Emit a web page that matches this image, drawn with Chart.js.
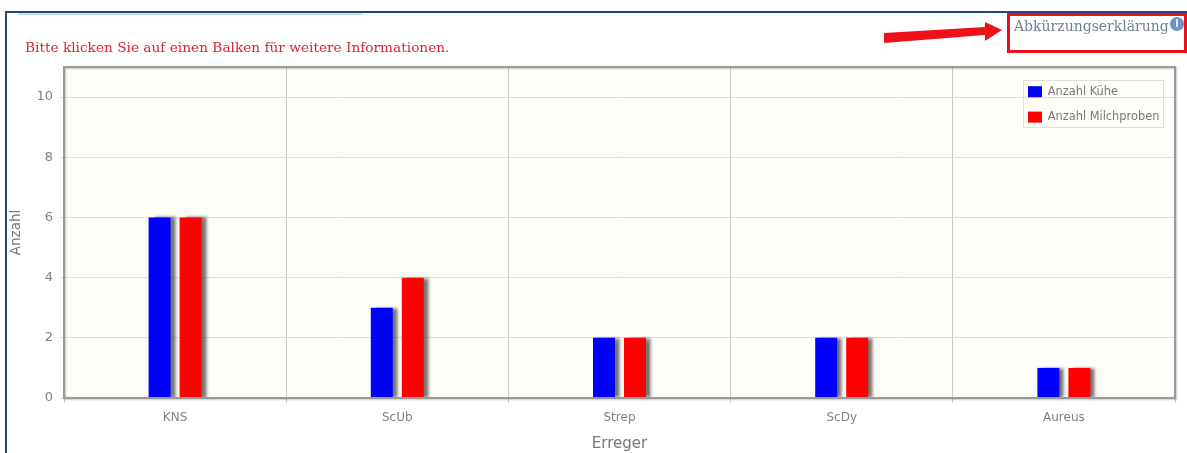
<!DOCTYPE html>
<html lang="de">
<head>
<meta charset="utf-8">
<title>Erreger</title>
<script src="https://cdn.jsdelivr.net/npm/chart.js@4/dist/chart.umd.min.js"></script>
<style>
    html, body { margin: 0; padding: 0; background: #fff; overflow: hidden; }
    #wrap { position: relative; width: 1187px; height: 453px; }
    #chart { position: absolute; left: 0; top: 0; }
    #frame { position: absolute; left: 5px; top: 11px; width: 1182px; height: 442px; border-top: 2px solid #1c4a78; border-left: 2px solid #1c4a78; box-sizing: border-box; }
    #tab { position: absolute; left: 18px; top: 13px; width: 345px; height: 2px; background: #cfdde2; }
    #hint { position: absolute; left: 25px; top: 39px; font: 13.7px "DejaVu Serif", serif; color: #d8262f; white-space: nowrap; }
    #redbox { position: absolute; left: 1007px; top: 13px; width: 180px; height: 40px; border: 3px solid #e8101c; box-sizing: border-box; }
    #abk { position: absolute; left: 1014px; top: 18px; font: 14px "DejaVu Serif", serif; color: #75818c; white-space: nowrap; }
    #info { position: absolute; left: 1170px; top: 17px; width: 14px; height: 14px; border-radius: 50%; background: #6f93c4; color: #fff; font: bold 10px/14px "DejaVu Sans", sans-serif; text-align: center; }
    #arrow { position: absolute; left: 880px; top: 18px; }
</style>
</head>
<body>
<div id="wrap">
    <canvas id="chart" width="1187" height="453"></canvas>
    <div id="frame"></div>
    <div id="tab"></div>
    <div id="hint">Bitte klicken Sie auf einen Balken für weitere Informationen.</div>
    <svg id="arrow" width="125" height="32"><polygon points="4,15 105,9 105,4 122,12 105,23 105,17 4,25" fill="#f01018"/></svg>
    <div id="redbox"></div>
    <div id="abk">Abkürzungserklärung</div>
    <div id="info">i</div>
</div>
<script>
var Erreger = ["KNS", "ScUb", "Strep", "ScDy", "Aureus"];
var AnzahlKuehe = [6, 3, 2, 2, 1];
var AnzahlMilchproben = [6, 4, 2, 2, 1];
var yTicks = [0, 2, 4, 6, 8, 10];

// plot background, frame, bar shadows and the box round the legend
const plotDeko = {
    id: 'plotDeko',
    beforeDraw(chart) {
        const a = chart.chartArea, ctx = chart.ctx;
        ctx.save();
        ctx.fillStyle = '#fffdf7';
        ctx.fillRect(a.left, a.top, a.right - a.left, a.bottom - a.top);
        ctx.restore();
    },
    afterLayout(chart) {
        // legend sits top right inside the plot, bottom is left roomy so it keeps one column
        Object.assign(chart.legend, { left: 1014, top: 72, right: 1170, bottom: 200, width: 156, height: 128 });
    },
    beforeDatasetsDraw(chart) {
        const ctx = chart.ctx;
        ctx.save();
        ctx.shadowColor = 'rgba(60,60,60,0.7)';
        ctx.shadowOffsetX = 5;
        ctx.shadowOffsetY = 0;
        ctx.shadowBlur = 3;
    },
    afterDatasetsDraw(chart) {
        const a = chart.chartArea, ctx = chart.ctx;
        ctx.restore();
        ctx.save();
        ctx.strokeStyle = '#999';
        ctx.lineWidth = 2;
        ctx.shadowColor = 'rgba(90,90,90,0.35)';
        ctx.shadowOffsetX = 1;
        ctx.shadowOffsetY = 1;
        ctx.shadowBlur = 2;
        ctx.strokeRect(a.left, a.top, a.right - a.left, a.bottom - a.top);
        ctx.shadowColor = 'transparent';
        ctx.strokeStyle = '#dedede';
        ctx.lineWidth = 1;
        ctx.strokeRect(1023.5, 80.5, 140, 47);
        ctx.restore();
    }
};

new Chart(document.getElementById('chart').getContext('2d'), {
    type: 'bar',
    data: {
        labels: Erreger,
        datasets: [
            { label: 'Anzahl Kühe', data: AnzahlKuehe, backgroundColor: '#0000ff', categoryPercentage: 0.279, barPercentage: 0.71 },
            { label: 'Anzahl Milchproben', data: AnzahlMilchproben, backgroundColor: '#ff0000', categoryPercentage: 0.279, barPercentage: 0.71 }
        ]
    },
    options: {
        responsive: false,
        animation: false,
        devicePixelRatio: 1,
        layout: { padding: { left: 8, top: 67, right: 12, bottom: 0 } },
        plugins: {
            tooltip: { enabled: false },
            legend: {
                position: 'chartArea',
                align: 'start',
                labels: {
                    boxWidth: 14,
                    boxHeight: 11,
                    padding: 14,
                    color: '#7a7a7a',
                    font: { family: 'DejaVu Sans', size: 11.4 }
                }
            }
        },
        scales: {
            x: {
                afterFit(scale) { scale.height = 55; },
                title: { display: true, text: 'Erreger', color: '#777', font: { family: 'DejaVu Sans', size: 15 }, padding: { top: 4, bottom: 0 } },
                grid: { color: '#c8c8c8', lineWidth: 1, tickLength: 5, drawTicks: true },
                border: { display: false },
                ticks: { color: '#808080', font: { family: 'DejaVu Sans', size: 12 }, padding: 8, maxRotation: 0 }
            },
            y: {
                min: 0,
                max: 11,
                afterFit(scale) { scale.width = 56; },
                afterBuildTicks(scale) { scale.ticks = yTicks.map(v => ({ value: v })); },
                title: { display: true, text: 'Anzahl', color: '#777', font: { family: 'DejaVu Sans', size: 13.5 }, padding: { top: 0, bottom: 0 } },
                grid: { color: '#dddddd', lineWidth: 1, tickLength: 4 },
                border: { display: false },
                ticks: { color: '#808080', font: { family: 'DejaVu Sans', size: 13 }, padding: 7 }
            }
        }
    },
    plugins: [plotDeko]
});
</script>
</body>
</html>
